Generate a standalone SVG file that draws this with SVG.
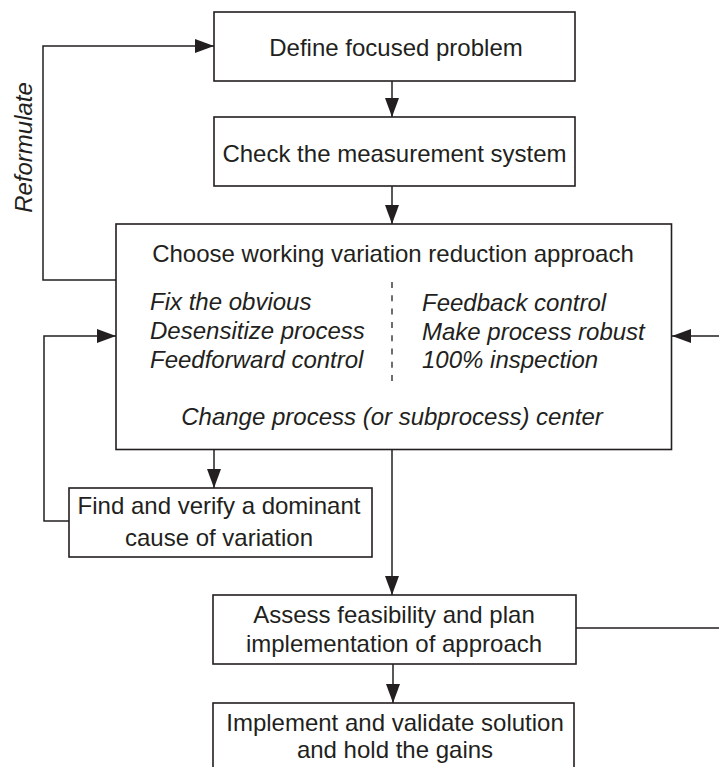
<svg xmlns="http://www.w3.org/2000/svg" width="719" height="767" viewBox="0 0 719 767">
<style>
.box{fill:#ffffff;stroke:#231f20;stroke-width:1.6}
.ln{fill:none;stroke:#231f20;stroke-width:1.5}
text{font-family:"Liberation Sans",Arial,sans-serif;font-size:24px;fill:#231f20}
.c{text-anchor:middle}
.i{font-style:italic}
</style>
<defs>
<marker id="ah" markerUnits="userSpaceOnUse" markerWidth="19" markerHeight="14" refX="19" refY="7" orient="auto">
<path d="M0,0 L19,7 L0,14 z" fill="#231f20"/>
</marker>
</defs>
<rect width="719" height="767" fill="#ffffff"/>
<g id="connectors">
<path class="ln" d="M392 81 V117" marker-end="url(#ah)"/>
<path class="ln" d="M392 186 V224" marker-end="url(#ah)"/>
<path class="ln" d="M116 280 H43 V46 H214" marker-end="url(#ah)"/>
<path class="ln" d="M214 449.5 V488" marker-end="url(#ah)"/>
<path class="ln" d="M69 521 H44 V336 H116" marker-end="url(#ah)"/>
<path class="ln" d="M392 449.5 V595" marker-end="url(#ah)"/>
<path class="ln" d="M576 628 H740 V336 H672" marker-end="url(#ah)"/>
<path class="ln" d="M393 664 V703" marker-end="url(#ah)"/>
<text class="i c" transform="translate(32,147.5) rotate(-90)">Reformulate</text>
</g>
<g id="define">
<rect class="box" x="214" y="12" width="361" height="69"/>
<text class="c" x="396" y="56">Define focused problem</text>
</g>
<g id="check">
<rect class="box" x="214" y="117" width="361" height="69"/>
<text class="c" x="394.5" y="162">Check the measurement system</text>
</g>
<g id="choose">
<rect class="box" x="116" y="224" width="555.5" height="225.5"/>
<text class="c" x="393" y="262">Choose working variation reduction approach</text>
<line x1="392" y1="282" x2="392" y2="382" stroke="#231f20" stroke-width="1.3" stroke-dasharray="6 7.3"/>
<text class="i" x="150" y="310">Fix the obvious</text>
<text class="i" x="150" y="339">Desensitize process</text>
<text class="i" x="150" y="368">Feedforward control</text>
<text class="i" x="422" y="311">Feedback control</text>
<text class="i" x="422" y="340">Make process robust</text>
<text class="i" x="422" y="368">100% inspection</text>
<text class="i c" x="392" y="425">Change process (or subprocess) center</text>
</g>
<g id="find">
<rect class="box" x="69" y="488" width="303" height="69"/>
<text class="c" x="219" y="514">Find and verify a dominant</text>
<text class="c" x="219" y="546">cause of variation</text>
</g>
<g id="assess">
<rect class="box" x="213" y="595" width="363" height="69"/>
<text class="c" x="394" y="623">Assess feasibility and plan</text>
<text class="c" x="394" y="652">implementation of approach</text>
</g>
<g id="implement">
<rect class="box" x="213" y="703" width="361" height="75"/>
<text class="c" x="395" y="731">Implement and validate solution</text>
<text class="c" x="395" y="758">and hold the gains</text>
</g>
</svg>
